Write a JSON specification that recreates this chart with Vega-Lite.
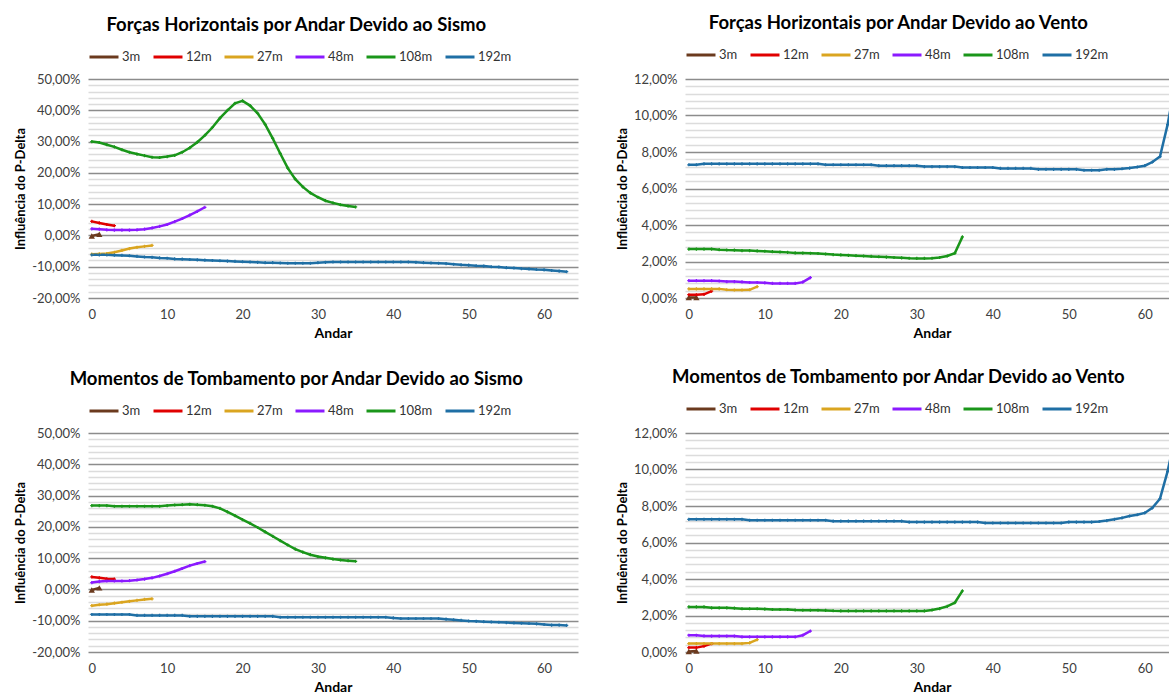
{
"$schema": "https://vega.github.io/schema/vega-lite/v6.json",
"padding": {"left": 14, "top": 13, "right": 0, "bottom": 0},
"background": "white",
"config": {
  "font": "Lato",
  "view": {"stroke": null},
  "title": {"fontSize": 18.5, "fontWeight": "bold", "color": "#000000", "font": "Lato", "offset": 7, "anchor": "middle", "frame": "bounds"},
  "axis": {"domain": false, "ticks": false, "labelFont": "Lato", "labelFontSize": 13, "labelColor": "#404040", "titleFont": "Lato", "titleFontSize": 13, "titleFontWeight": "bold", "titleColor": "#000000", "labelPadding": 8},
  "legend": {"orient": "top", "direction": "horizontal", "symbolType": "stroke", "symbolSize": 841, "symbolStrokeWidth": 3, "labelFont": "Lato", "labelFontSize": 13, "labelColor": "#333333", "columnPadding": 6, "labelOffset": 2, "offset": 15, "padding": 0}
},
"datasets": {
"fs": [
{"s":"3m","x":0,"y":-0.2},{"s":"3m","x":1,"y":0.4},
{"s":"12m","x":0,"y":4.5},{"s":"12m","x":1,"y":4.0},{"s":"12m","x":2,"y":3.5},{"s":"12m","x":3,"y":3.1},
{"s":"27m","x":0,"y":-6.0},{"s":"27m","x":1,"y":-5.9},{"s":"27m","x":2,"y":-5.8},{"s":"27m","x":3,"y":-5.4},{"s":"27m","x":4,"y":-4.8},{"s":"27m","x":5,"y":-4.2},{"s":"27m","x":6,"y":-3.8},{"s":"27m","x":7,"y":-3.5},{"s":"27m","x":8,"y":-3.2},
{"s":"48m","x":0,"y":2.1},{"s":"48m","x":1,"y":2.0},{"s":"48m","x":2,"y":1.8},{"s":"48m","x":3,"y":1.7},{"s":"48m","x":4,"y":1.7},{"s":"48m","x":5,"y":1.7},{"s":"48m","x":6,"y":1.8},{"s":"48m","x":7,"y":2.0},{"s":"48m","x":8,"y":2.4},{"s":"48m","x":9,"y":2.9},{"s":"48m","x":10,"y":3.5},{"s":"48m","x":11,"y":4.4},{"s":"48m","x":12,"y":5.4},{"s":"48m","x":13,"y":6.5},{"s":"48m","x":14,"y":7.7},{"s":"48m","x":15,"y":9.0},
{"s":"108m","x":0,"y":30.0},{"s":"108m","x":1,"y":29.7},{"s":"108m","x":2,"y":29.0},{"s":"108m","x":3,"y":28.3},{"s":"108m","x":4,"y":27.4},{"s":"108m","x":5,"y":26.6},{"s":"108m","x":6,"y":26.0},{"s":"108m","x":7,"y":25.5},{"s":"108m","x":8,"y":25.0},{"s":"108m","x":9,"y":24.9},{"s":"108m","x":10,"y":25.2},{"s":"108m","x":11,"y":25.6},{"s":"108m","x":12,"y":26.6},{"s":"108m","x":13,"y":28.0},{"s":"108m","x":14,"y":29.8},{"s":"108m","x":15,"y":32.0},{"s":"108m","x":16,"y":34.5},{"s":"108m","x":17,"y":37.5},{"s":"108m","x":18,"y":40.0},{"s":"108m","x":19,"y":42.2},{"s":"108m","x":20,"y":43.0},{"s":"108m","x":21,"y":41.5},{"s":"108m","x":22,"y":39.0},{"s":"108m","x":23,"y":35.5},{"s":"108m","x":24,"y":31.0},{"s":"108m","x":25,"y":26.2},{"s":"108m","x":26,"y":21.5},{"s":"108m","x":27,"y":18.0},{"s":"108m","x":28,"y":15.5},{"s":"108m","x":29,"y":13.6},{"s":"108m","x":30,"y":12.2},{"s":"108m","x":31,"y":11.1},{"s":"108m","x":32,"y":10.4},{"s":"108m","x":33,"y":9.8},{"s":"108m","x":34,"y":9.4},{"s":"108m","x":35,"y":9.1},
{"s":"192m","x":0,"y":-6.2},{"s":"192m","x":1,"y":-6.2},{"s":"192m","x":2,"y":-6.2},{"s":"192m","x":3,"y":-6.3},{"s":"192m","x":4,"y":-6.4},{"s":"192m","x":5,"y":-6.5},{"s":"192m","x":6,"y":-6.7},{"s":"192m","x":7,"y":-6.9},{"s":"192m","x":8,"y":-7.0},{"s":"192m","x":9,"y":-7.2},{"s":"192m","x":10,"y":-7.3},{"s":"192m","x":11,"y":-7.5},{"s":"192m","x":12,"y":-7.6},{"s":"192m","x":13,"y":-7.7},{"s":"192m","x":14,"y":-7.8},{"s":"192m","x":15,"y":-7.9},{"s":"192m","x":16,"y":-8.0},{"s":"192m","x":17,"y":-8.1},{"s":"192m","x":18,"y":-8.2},{"s":"192m","x":19,"y":-8.3},{"s":"192m","x":20,"y":-8.4},{"s":"192m","x":21,"y":-8.5},{"s":"192m","x":22,"y":-8.6},{"s":"192m","x":23,"y":-8.7},{"s":"192m","x":24,"y":-8.7},{"s":"192m","x":25,"y":-8.8},{"s":"192m","x":26,"y":-8.9},{"s":"192m","x":27,"y":-8.9},{"s":"192m","x":28,"y":-8.9},{"s":"192m","x":29,"y":-8.9},{"s":"192m","x":30,"y":-8.7},{"s":"192m","x":31,"y":-8.6},{"s":"192m","x":32,"y":-8.5},{"s":"192m","x":33,"y":-8.5},{"s":"192m","x":34,"y":-8.5},{"s":"192m","x":35,"y":-8.5},{"s":"192m","x":36,"y":-8.5},{"s":"192m","x":37,"y":-8.5},{"s":"192m","x":38,"y":-8.5},{"s":"192m","x":39,"y":-8.5},{"s":"192m","x":40,"y":-8.5},{"s":"192m","x":41,"y":-8.5},{"s":"192m","x":42,"y":-8.5},{"s":"192m","x":43,"y":-8.6},{"s":"192m","x":44,"y":-8.7},{"s":"192m","x":45,"y":-8.8},{"s":"192m","x":46,"y":-8.9},{"s":"192m","x":47,"y":-9.0},{"s":"192m","x":48,"y":-9.2},{"s":"192m","x":49,"y":-9.4},{"s":"192m","x":50,"y":-9.5},{"s":"192m","x":51,"y":-9.7},{"s":"192m","x":52,"y":-9.8},{"s":"192m","x":53,"y":-10.0},{"s":"192m","x":54,"y":-10.1},{"s":"192m","x":55,"y":-10.3},{"s":"192m","x":56,"y":-10.4},{"s":"192m","x":57,"y":-10.6},{"s":"192m","x":58,"y":-10.7},{"s":"192m","x":59,"y":-10.9},{"s":"192m","x":60,"y":-11.0},{"s":"192m","x":61,"y":-11.2},{"s":"192m","x":62,"y":-11.4},{"s":"192m","x":63,"y":-11.6}
],
"fv": [
{"s":"3m","x":0,"y":0.03},{"s":"3m","x":1,"y":0.03},
{"s":"12m","x":0,"y":0.18},{"s":"12m","x":1,"y":0.18},{"s":"12m","x":2,"y":0.2},{"s":"12m","x":3,"y":0.38},
{"s":"27m","x":0,"y":0.5},{"s":"27m","x":1,"y":0.5},{"s":"27m","x":2,"y":0.5},{"s":"27m","x":3,"y":0.5},{"s":"27m","x":4,"y":0.5},{"s":"27m","x":5,"y":0.45},{"s":"27m","x":6,"y":0.44},{"s":"27m","x":7,"y":0.44},{"s":"27m","x":8,"y":0.45},{"s":"27m","x":9,"y":0.62},
{"s":"48m","x":0,"y":0.95},{"s":"48m","x":1,"y":0.95},{"s":"48m","x":2,"y":0.95},{"s":"48m","x":3,"y":0.95},{"s":"48m","x":4,"y":0.93},{"s":"48m","x":5,"y":0.9},{"s":"48m","x":6,"y":0.9},{"s":"48m","x":7,"y":0.88},{"s":"48m","x":8,"y":0.85},{"s":"48m","x":9,"y":0.85},{"s":"48m","x":10,"y":0.83},{"s":"48m","x":11,"y":0.8},{"s":"48m","x":12,"y":0.8},{"s":"48m","x":13,"y":0.8},{"s":"48m","x":14,"y":0.8},{"s":"48m","x":15,"y":0.87},{"s":"48m","x":16,"y":1.12},
{"s":"108m","x":0,"y":2.68},{"s":"108m","x":1,"y":2.68},{"s":"108m","x":2,"y":2.68},{"s":"108m","x":3,"y":2.68},{"s":"108m","x":4,"y":2.65},{"s":"108m","x":5,"y":2.63},{"s":"108m","x":6,"y":2.62},{"s":"108m","x":7,"y":2.6},{"s":"108m","x":8,"y":2.6},{"s":"108m","x":9,"y":2.58},{"s":"108m","x":10,"y":2.56},{"s":"108m","x":11,"y":2.54},{"s":"108m","x":12,"y":2.52},{"s":"108m","x":13,"y":2.5},{"s":"108m","x":14,"y":2.47},{"s":"108m","x":15,"y":2.46},{"s":"108m","x":16,"y":2.45},{"s":"108m","x":17,"y":2.44},{"s":"108m","x":18,"y":2.41},{"s":"108m","x":19,"y":2.38},{"s":"108m","x":20,"y":2.36},{"s":"108m","x":21,"y":2.34},{"s":"108m","x":22,"y":2.32},{"s":"108m","x":23,"y":2.3},{"s":"108m","x":24,"y":2.28},{"s":"108m","x":25,"y":2.26},{"s":"108m","x":26,"y":2.24},{"s":"108m","x":27,"y":2.22},{"s":"108m","x":28,"y":2.2},{"s":"108m","x":29,"y":2.18},{"s":"108m","x":30,"y":2.17},{"s":"108m","x":31,"y":2.17},{"s":"108m","x":32,"y":2.18},{"s":"108m","x":33,"y":2.22},{"s":"108m","x":34,"y":2.3},{"s":"108m","x":35,"y":2.45},{"s":"108m","x":36,"y":3.35},
{"s":"192m","x":0,"y":7.3},{"s":"192m","x":1,"y":7.3},{"s":"192m","x":2,"y":7.35},{"s":"192m","x":3,"y":7.35},{"s":"192m","x":4,"y":7.35},{"s":"192m","x":5,"y":7.35},{"s":"192m","x":6,"y":7.35},{"s":"192m","x":7,"y":7.35},{"s":"192m","x":8,"y":7.35},{"s":"192m","x":9,"y":7.35},{"s":"192m","x":10,"y":7.35},{"s":"192m","x":11,"y":7.35},{"s":"192m","x":12,"y":7.35},{"s":"192m","x":13,"y":7.35},{"s":"192m","x":14,"y":7.35},{"s":"192m","x":15,"y":7.35},{"s":"192m","x":16,"y":7.35},{"s":"192m","x":17,"y":7.35},{"s":"192m","x":18,"y":7.3},{"s":"192m","x":19,"y":7.3},{"s":"192m","x":20,"y":7.3},{"s":"192m","x":21,"y":7.3},{"s":"192m","x":22,"y":7.3},{"s":"192m","x":23,"y":7.3},{"s":"192m","x":24,"y":7.3},{"s":"192m","x":25,"y":7.25},{"s":"192m","x":26,"y":7.25},{"s":"192m","x":27,"y":7.25},{"s":"192m","x":28,"y":7.25},{"s":"192m","x":29,"y":7.25},{"s":"192m","x":30,"y":7.25},{"s":"192m","x":31,"y":7.2},{"s":"192m","x":32,"y":7.2},{"s":"192m","x":33,"y":7.2},{"s":"192m","x":34,"y":7.2},{"s":"192m","x":35,"y":7.2},{"s":"192m","x":36,"y":7.15},{"s":"192m","x":37,"y":7.15},{"s":"192m","x":38,"y":7.15},{"s":"192m","x":39,"y":7.15},{"s":"192m","x":40,"y":7.15},{"s":"192m","x":41,"y":7.1},{"s":"192m","x":42,"y":7.1},{"s":"192m","x":43,"y":7.1},{"s":"192m","x":44,"y":7.1},{"s":"192m","x":45,"y":7.1},{"s":"192m","x":46,"y":7.05},{"s":"192m","x":47,"y":7.05},{"s":"192m","x":48,"y":7.05},{"s":"192m","x":49,"y":7.05},{"s":"192m","x":50,"y":7.05},{"s":"192m","x":51,"y":7.05},{"s":"192m","x":52,"y":7.0},{"s":"192m","x":53,"y":7.0},{"s":"192m","x":54,"y":7.0},{"s":"192m","x":55,"y":7.05},{"s":"192m","x":56,"y":7.05},{"s":"192m","x":57,"y":7.08},{"s":"192m","x":58,"y":7.12},{"s":"192m","x":59,"y":7.18},{"s":"192m","x":60,"y":7.25},{"s":"192m","x":61,"y":7.45},{"s":"192m","x":62,"y":7.75},{"s":"192m","x":63,"y":9.5},{"s":"192m","x":64,"y":11.8}
],
"ms": [
{"s":"3m","x":0,"y":-0.2},{"s":"3m","x":1,"y":0.5},
{"s":"12m","x":0,"y":4.0},{"s":"12m","x":1,"y":3.7},{"s":"12m","x":2,"y":3.4},{"s":"12m","x":3,"y":3.3},
{"s":"27m","x":0,"y":-5.2},{"s":"27m","x":1,"y":-4.9},{"s":"27m","x":2,"y":-4.7},{"s":"27m","x":3,"y":-4.4},{"s":"27m","x":4,"y":-4.1},{"s":"27m","x":5,"y":-3.8},{"s":"27m","x":6,"y":-3.5},{"s":"27m","x":7,"y":-3.2},{"s":"27m","x":8,"y":-3.0},
{"s":"48m","x":0,"y":2.2},{"s":"48m","x":1,"y":2.5},{"s":"48m","x":2,"y":2.7},{"s":"48m","x":3,"y":2.7},{"s":"48m","x":4,"y":2.7},{"s":"48m","x":5,"y":2.8},{"s":"48m","x":6,"y":3.0},{"s":"48m","x":7,"y":3.3},{"s":"48m","x":8,"y":3.7},{"s":"48m","x":9,"y":4.3},{"s":"48m","x":10,"y":5.0},{"s":"48m","x":11,"y":5.8},{"s":"48m","x":12,"y":6.7},{"s":"48m","x":13,"y":7.6},{"s":"48m","x":14,"y":8.3},{"s":"48m","x":15,"y":8.9},
{"s":"108m","x":0,"y":26.8},{"s":"108m","x":1,"y":26.8},{"s":"108m","x":2,"y":26.8},{"s":"108m","x":3,"y":26.6},{"s":"108m","x":4,"y":26.6},{"s":"108m","x":5,"y":26.6},{"s":"108m","x":6,"y":26.6},{"s":"108m","x":7,"y":26.6},{"s":"108m","x":8,"y":26.6},{"s":"108m","x":9,"y":26.6},{"s":"108m","x":10,"y":26.8},{"s":"108m","x":11,"y":27.0},{"s":"108m","x":12,"y":27.1},{"s":"108m","x":13,"y":27.2},{"s":"108m","x":14,"y":27.1},{"s":"108m","x":15,"y":26.9},{"s":"108m","x":16,"y":26.6},{"s":"108m","x":17,"y":25.9},{"s":"108m","x":18,"y":24.8},{"s":"108m","x":19,"y":23.6},{"s":"108m","x":20,"y":22.3},{"s":"108m","x":21,"y":21.1},{"s":"108m","x":22,"y":19.8},{"s":"108m","x":23,"y":18.4},{"s":"108m","x":24,"y":17.0},{"s":"108m","x":25,"y":15.6},{"s":"108m","x":26,"y":14.2},{"s":"108m","x":27,"y":12.9},{"s":"108m","x":28,"y":11.9},{"s":"108m","x":29,"y":11.1},{"s":"108m","x":30,"y":10.5},{"s":"108m","x":31,"y":10.1},{"s":"108m","x":32,"y":9.7},{"s":"108m","x":33,"y":9.4},{"s":"108m","x":34,"y":9.2},{"s":"108m","x":35,"y":9.0},
{"s":"192m","x":0,"y":-8.0},{"s":"192m","x":1,"y":-8.0},{"s":"192m","x":2,"y":-8.0},{"s":"192m","x":3,"y":-8.0},{"s":"192m","x":4,"y":-8.0},{"s":"192m","x":5,"y":-8.0},{"s":"192m","x":6,"y":-8.3},{"s":"192m","x":7,"y":-8.3},{"s":"192m","x":8,"y":-8.3},{"s":"192m","x":9,"y":-8.3},{"s":"192m","x":10,"y":-8.3},{"s":"192m","x":11,"y":-8.3},{"s":"192m","x":12,"y":-8.3},{"s":"192m","x":13,"y":-8.6},{"s":"192m","x":14,"y":-8.6},{"s":"192m","x":15,"y":-8.6},{"s":"192m","x":16,"y":-8.6},{"s":"192m","x":17,"y":-8.6},{"s":"192m","x":18,"y":-8.6},{"s":"192m","x":19,"y":-8.6},{"s":"192m","x":20,"y":-8.6},{"s":"192m","x":21,"y":-8.6},{"s":"192m","x":22,"y":-8.6},{"s":"192m","x":23,"y":-8.6},{"s":"192m","x":24,"y":-8.6},{"s":"192m","x":25,"y":-8.9},{"s":"192m","x":26,"y":-8.9},{"s":"192m","x":27,"y":-8.9},{"s":"192m","x":28,"y":-8.9},{"s":"192m","x":29,"y":-8.9},{"s":"192m","x":30,"y":-8.9},{"s":"192m","x":31,"y":-8.9},{"s":"192m","x":32,"y":-8.9},{"s":"192m","x":33,"y":-8.9},{"s":"192m","x":34,"y":-8.9},{"s":"192m","x":35,"y":-8.9},{"s":"192m","x":36,"y":-8.9},{"s":"192m","x":37,"y":-8.9},{"s":"192m","x":38,"y":-8.9},{"s":"192m","x":39,"y":-8.9},{"s":"192m","x":40,"y":-9.1},{"s":"192m","x":41,"y":-9.3},{"s":"192m","x":42,"y":-9.3},{"s":"192m","x":43,"y":-9.3},{"s":"192m","x":44,"y":-9.3},{"s":"192m","x":45,"y":-9.3},{"s":"192m","x":46,"y":-9.3},{"s":"192m","x":47,"y":-9.5},{"s":"192m","x":48,"y":-9.7},{"s":"192m","x":49,"y":-9.9},{"s":"192m","x":50,"y":-10.1},{"s":"192m","x":51,"y":-10.2},{"s":"192m","x":52,"y":-10.3},{"s":"192m","x":53,"y":-10.4},{"s":"192m","x":54,"y":-10.5},{"s":"192m","x":55,"y":-10.6},{"s":"192m","x":56,"y":-10.7},{"s":"192m","x":57,"y":-10.8},{"s":"192m","x":58,"y":-10.9},{"s":"192m","x":59,"y":-11.0},{"s":"192m","x":60,"y":-11.2},{"s":"192m","x":61,"y":-11.4},{"s":"192m","x":62,"y":-11.4},{"s":"192m","x":63,"y":-11.5}
],
"mv": [
{"s":"3m","x":0,"y":0.03},{"s":"3m","x":1,"y":0.05},
{"s":"12m","x":0,"y":0.24},{"s":"12m","x":1,"y":0.24},{"s":"12m","x":2,"y":0.32},{"s":"12m","x":3,"y":0.46},
{"s":"27m","x":0,"y":0.46},{"s":"27m","x":1,"y":0.46},{"s":"27m","x":2,"y":0.46},{"s":"27m","x":3,"y":0.46},{"s":"27m","x":4,"y":0.46},{"s":"27m","x":5,"y":0.46},{"s":"27m","x":6,"y":0.46},{"s":"27m","x":7,"y":0.46},{"s":"27m","x":8,"y":0.5},{"s":"27m","x":9,"y":0.68},
{"s":"48m","x":0,"y":0.92},{"s":"48m","x":1,"y":0.92},{"s":"48m","x":2,"y":0.88},{"s":"48m","x":3,"y":0.87},{"s":"48m","x":4,"y":0.87},{"s":"48m","x":5,"y":0.87},{"s":"48m","x":6,"y":0.87},{"s":"48m","x":7,"y":0.83},{"s":"48m","x":8,"y":0.83},{"s":"48m","x":9,"y":0.83},{"s":"48m","x":10,"y":0.83},{"s":"48m","x":11,"y":0.83},{"s":"48m","x":12,"y":0.83},{"s":"48m","x":13,"y":0.83},{"s":"48m","x":14,"y":0.83},{"s":"48m","x":15,"y":0.92},{"s":"48m","x":16,"y":1.15},
{"s":"108m","x":0,"y":2.47},{"s":"108m","x":1,"y":2.47},{"s":"108m","x":2,"y":2.47},{"s":"108m","x":3,"y":2.42},{"s":"108m","x":4,"y":2.42},{"s":"108m","x":5,"y":2.42},{"s":"108m","x":6,"y":2.4},{"s":"108m","x":7,"y":2.37},{"s":"108m","x":8,"y":2.37},{"s":"108m","x":9,"y":2.37},{"s":"108m","x":10,"y":2.35},{"s":"108m","x":11,"y":2.33},{"s":"108m","x":12,"y":2.33},{"s":"108m","x":13,"y":2.33},{"s":"108m","x":14,"y":2.3},{"s":"108m","x":15,"y":2.29},{"s":"108m","x":16,"y":2.29},{"s":"108m","x":17,"y":2.29},{"s":"108m","x":18,"y":2.28},{"s":"108m","x":19,"y":2.26},{"s":"108m","x":20,"y":2.25},{"s":"108m","x":21,"y":2.25},{"s":"108m","x":22,"y":2.25},{"s":"108m","x":23,"y":2.25},{"s":"108m","x":24,"y":2.25},{"s":"108m","x":25,"y":2.25},{"s":"108m","x":26,"y":2.25},{"s":"108m","x":27,"y":2.25},{"s":"108m","x":28,"y":2.25},{"s":"108m","x":29,"y":2.25},{"s":"108m","x":30,"y":2.25},{"s":"108m","x":31,"y":2.25},{"s":"108m","x":32,"y":2.3},{"s":"108m","x":33,"y":2.38},{"s":"108m","x":34,"y":2.5},{"s":"108m","x":35,"y":2.7},{"s":"108m","x":36,"y":3.35},
{"s":"192m","x":0,"y":7.27},{"s":"192m","x":1,"y":7.27},{"s":"192m","x":2,"y":7.27},{"s":"192m","x":3,"y":7.27},{"s":"192m","x":4,"y":7.27},{"s":"192m","x":5,"y":7.27},{"s":"192m","x":6,"y":7.27},{"s":"192m","x":7,"y":7.27},{"s":"192m","x":8,"y":7.22},{"s":"192m","x":9,"y":7.22},{"s":"192m","x":10,"y":7.22},{"s":"192m","x":11,"y":7.22},{"s":"192m","x":12,"y":7.22},{"s":"192m","x":13,"y":7.22},{"s":"192m","x":14,"y":7.22},{"s":"192m","x":15,"y":7.22},{"s":"192m","x":16,"y":7.22},{"s":"192m","x":17,"y":7.22},{"s":"192m","x":18,"y":7.22},{"s":"192m","x":19,"y":7.17},{"s":"192m","x":20,"y":7.17},{"s":"192m","x":21,"y":7.17},{"s":"192m","x":22,"y":7.17},{"s":"192m","x":23,"y":7.17},{"s":"192m","x":24,"y":7.17},{"s":"192m","x":25,"y":7.17},{"s":"192m","x":26,"y":7.17},{"s":"192m","x":27,"y":7.17},{"s":"192m","x":28,"y":7.17},{"s":"192m","x":29,"y":7.12},{"s":"192m","x":30,"y":7.12},{"s":"192m","x":31,"y":7.12},{"s":"192m","x":32,"y":7.12},{"s":"192m","x":33,"y":7.12},{"s":"192m","x":34,"y":7.12},{"s":"192m","x":35,"y":7.12},{"s":"192m","x":36,"y":7.12},{"s":"192m","x":37,"y":7.12},{"s":"192m","x":38,"y":7.12},{"s":"192m","x":39,"y":7.07},{"s":"192m","x":40,"y":7.07},{"s":"192m","x":41,"y":7.07},{"s":"192m","x":42,"y":7.07},{"s":"192m","x":43,"y":7.07},{"s":"192m","x":44,"y":7.07},{"s":"192m","x":45,"y":7.07},{"s":"192m","x":46,"y":7.07},{"s":"192m","x":47,"y":7.07},{"s":"192m","x":48,"y":7.07},{"s":"192m","x":49,"y":7.07},{"s":"192m","x":50,"y":7.12},{"s":"192m","x":51,"y":7.12},{"s":"192m","x":52,"y":7.12},{"s":"192m","x":53,"y":7.12},{"s":"192m","x":54,"y":7.15},{"s":"192m","x":55,"y":7.2},{"s":"192m","x":56,"y":7.27},{"s":"192m","x":57,"y":7.35},{"s":"192m","x":58,"y":7.45},{"s":"192m","x":59,"y":7.52},{"s":"192m","x":60,"y":7.62},{"s":"192m","x":61,"y":7.9},{"s":"192m","x":62,"y":8.4},{"s":"192m","x":63,"y":9.9},{"s":"192m","x":64,"y":11.8}
]
},
"spacing": 27,
"resolve": {"scale": {"color": "independent"}, "legend": {"color": "independent"}},
"vconcat": [
{"hconcat": [
 {"width": 490, "height": 219, "title": "Forças Horizontais por Andar Devido ao Sismo", "data": {"name": "fs"},
  "encoding": {
   "x": {"field": "x", "type": "quantitative", "scale": {"domain": [-0.5, 64.5], "nice": false, "zero": false}, "axis": {"values": [0,10,20,30,40,50,60], "grid": false, "title": "Andar", "titleFontSize": 14, "labelPadding": 10, "titlePadding": 5}},
   "color": {"field": "s", "type": "nominal", "scale": {"domain": ["3m","12m","27m","48m","108m","192m"], "range": ["#6B3A1E","#E00000","#DAA520","#8B1AFF","#1A961A","#1F6FA5"]}, "legend": {"title": null, "symbolType": "stroke", "symbolSize": 841, "symbolStrokeWidth": 3}}
  },
  "layer": [
   {"mark": {"type": "line", "strokeWidth": 2.5},
    "encoding": {"y": {"field": "y", "type": "quantitative", "scale": {"domain": [-20, 50], "nice": false, "zero": false}, "axis": {"orient": "right", "values": [-18,-16,-14,-12,-8,-6,-4,-2,2,4,6,8,12,14,16,18,22,24,26,28,32,34,36,38,42,44,46,48], "grid": true, "gridColor": "#DCDCDC", "gridWidth": 1.3, "labels": false, "title": null}}}},
   {"transform": [{"filter": "datum.s === '3m'"}],
    "mark": {"type": "point", "filled": true, "opacity": 1, "shape": "triangle-up", "size": 40},
    "encoding": {"y": {"field": "y", "type": "quantitative", "axis": {"values": [-20,-10,0,10,20,30,40,50], "grid": true, "gridColor": "#8C8C8C", "gridWidth": 1.3, "title": "Influência do P-Delta", "titlePadding": 4, "labelExpr": "(datum.value < 0 ? '-' : '') + replace(format(abs(datum.value), '.2f'), '.', ',') + '%'"}}}},
   {"transform": [{"filter": "datum.s !== '3m'"}],
    "mark": {"type": "point", "filled": true, "opacity": 1, "shape": "cross", "size": 10},
    "encoding": {"y": {"field": "y", "type": "quantitative", "axis": null}}}
  ],
  "resolve": {"axis": {"y": "independent"}}
 },
 {"width": 494, "height": 219, "title": "Forças Horizontais por Andar Devido ao Vento", "data": {"name": "fv"},
  "encoding": {
   "x": {"field": "x", "type": "quantitative", "scale": {"domain": [-0.5, 64.5], "nice": false, "zero": false}, "axis": {"values": [0,10,20,30,40,50,60], "grid": false, "title": "Andar", "titleFontSize": 14, "labelPadding": 10, "titlePadding": 5}},
   "color": {"field": "s", "type": "nominal", "scale": {"domain": ["3m","12m","27m","48m","108m","192m"], "range": ["#6B3A1E","#E00000","#DAA520","#8B1AFF","#1A961A","#1F6FA5"]}, "legend": {"title": null, "symbolType": "stroke", "symbolSize": 841, "symbolStrokeWidth": 3}}
  },
  "layer": [
   {"mark": {"type": "line", "strokeWidth": 2.5},
    "encoding": {"y": {"field": "y", "type": "quantitative", "scale": {"domain": [0, 12], "nice": false, "zero": false}, "axis": {"orient": "right", "values": [0.4,0.8,1.2,1.6,2.4,2.8,3.2,3.6,4.4,4.8,5.2,5.6,6.4,6.8,7.2,7.6,8.4,8.8,9.2,9.6,10.4,10.8,11.2,11.6], "grid": true, "gridColor": "#DCDCDC", "gridWidth": 1.3, "labels": false, "title": null}}}},
   {"transform": [{"filter": "datum.s === '3m'"}],
    "mark": {"type": "point", "filled": true, "opacity": 1, "shape": "triangle-up", "size": 40},
    "encoding": {"y": {"field": "y", "type": "quantitative", "axis": {"values": [0,2,4,6,8,10,12], "grid": true, "gridColor": "#8C8C8C", "gridWidth": 1.3, "title": "Influência do P-Delta", "titlePadding": 4, "labelExpr": "(datum.value < 0 ? '-' : '') + replace(format(abs(datum.value), '.2f'), '.', ',') + '%'"}}}},
   {"transform": [{"filter": "datum.s !== '3m'"}],
    "mark": {"type": "point", "filled": true, "opacity": 1, "shape": "cross", "size": 10},
    "encoding": {"y": {"field": "y", "type": "quantitative", "axis": null}}}
  ],
  "resolve": {"axis": {"y": "independent"}}
 }
], "spacing": 38, "resolve": {"scale": {"color": "independent"}, "legend": {"color": "independent"}}},
{"hconcat": [
 {"width": 490, "height": 219, "title": "Momentos de Tombamento por Andar Devido ao Sismo", "data": {"name": "ms"},
  "encoding": {
   "x": {"field": "x", "type": "quantitative", "scale": {"domain": [-0.5, 64.5], "nice": false, "zero": false}, "axis": {"values": [0,10,20,30,40,50,60], "grid": false, "title": "Andar", "titleFontSize": 14, "labelPadding": 10, "titlePadding": 5}},
   "color": {"field": "s", "type": "nominal", "scale": {"domain": ["3m","12m","27m","48m","108m","192m"], "range": ["#6B3A1E","#E00000","#DAA520","#8B1AFF","#1A961A","#1F6FA5"]}, "legend": {"title": null, "symbolType": "stroke", "symbolSize": 841, "symbolStrokeWidth": 3}}
  },
  "layer": [
   {"mark": {"type": "line", "strokeWidth": 2.5},
    "encoding": {"y": {"field": "y", "type": "quantitative", "scale": {"domain": [-20, 50], "nice": false, "zero": false}, "axis": {"orient": "right", "values": [-18,-16,-14,-12,-8,-6,-4,-2,2,4,6,8,12,14,16,18,22,24,26,28,32,34,36,38,42,44,46,48], "grid": true, "gridColor": "#DCDCDC", "gridWidth": 1.3, "labels": false, "title": null}}}},
   {"transform": [{"filter": "datum.s === '3m'"}],
    "mark": {"type": "point", "filled": true, "opacity": 1, "shape": "triangle-up", "size": 40},
    "encoding": {"y": {"field": "y", "type": "quantitative", "axis": {"values": [-20,-10,0,10,20,30,40,50], "grid": true, "gridColor": "#8C8C8C", "gridWidth": 1.3, "title": "Influência do P-Delta", "titlePadding": 4, "labelExpr": "(datum.value < 0 ? '-' : '') + replace(format(abs(datum.value), '.2f'), '.', ',') + '%'"}}}},
   {"transform": [{"filter": "datum.s !== '3m'"}],
    "mark": {"type": "point", "filled": true, "opacity": 1, "shape": "cross", "size": 10},
    "encoding": {"y": {"field": "y", "type": "quantitative", "axis": null}}}
  ],
  "resolve": {"axis": {"y": "independent"}}
 },
 {"width": 494, "height": 219, "title": "Momentos de Tombamento por Andar Devido ao Vento", "data": {"name": "mv"},
  "encoding": {
   "x": {"field": "x", "type": "quantitative", "scale": {"domain": [-0.5, 64.5], "nice": false, "zero": false}, "axis": {"values": [0,10,20,30,40,50,60], "grid": false, "title": "Andar", "titleFontSize": 14, "labelPadding": 10, "titlePadding": 5}},
   "color": {"field": "s", "type": "nominal", "scale": {"domain": ["3m","12m","27m","48m","108m","192m"], "range": ["#6B3A1E","#E00000","#DAA520","#8B1AFF","#1A961A","#1F6FA5"]}, "legend": {"title": null, "symbolType": "stroke", "symbolSize": 841, "symbolStrokeWidth": 3}}
  },
  "layer": [
   {"mark": {"type": "line", "strokeWidth": 2.5},
    "encoding": {"y": {"field": "y", "type": "quantitative", "scale": {"domain": [0, 12], "nice": false, "zero": false}, "axis": {"orient": "right", "values": [0.4,0.8,1.2,1.6,2.4,2.8,3.2,3.6,4.4,4.8,5.2,5.6,6.4,6.8,7.2,7.6,8.4,8.8,9.2,9.6,10.4,10.8,11.2,11.6], "grid": true, "gridColor": "#DCDCDC", "gridWidth": 1.3, "labels": false, "title": null}}}},
   {"transform": [{"filter": "datum.s === '3m'"}],
    "mark": {"type": "point", "filled": true, "opacity": 1, "shape": "triangle-up", "size": 40},
    "encoding": {"y": {"field": "y", "type": "quantitative", "axis": {"values": [0,2,4,6,8,10,12], "grid": true, "gridColor": "#8C8C8C", "gridWidth": 1.3, "title": "Influência do P-Delta", "titlePadding": 4, "labelExpr": "(datum.value < 0 ? '-' : '') + replace(format(abs(datum.value), '.2f'), '.', ',') + '%'"}}}},
   {"transform": [{"filter": "datum.s !== '3m'"}],
    "mark": {"type": "point", "filled": true, "opacity": 1, "shape": "cross", "size": 10},
    "encoding": {"y": {"field": "y", "type": "quantitative", "axis": null}}}
  ],
  "resolve": {"axis": {"y": "independent"}}
 }
], "spacing": 38, "resolve": {"scale": {"color": "independent"}, "legend": {"color": "independent"}}}
]
}
